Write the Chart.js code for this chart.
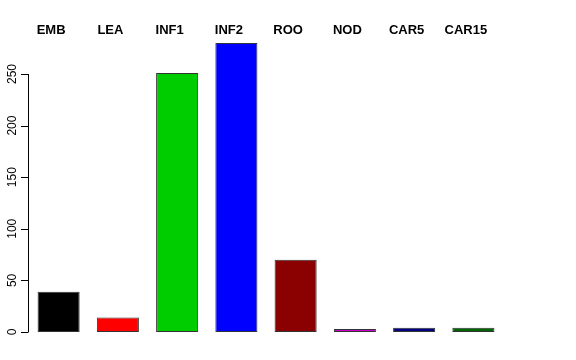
<!DOCTYPE html>
<html>
<head>
<meta charset="utf-8">
<script src="https://cdn.jsdelivr.net/npm/chart.js@4/dist/chart.umd.min.js"></script>
<style>
  html, body { margin: 0; padding: 0; background: #fff; }
  #wrap { width: 576px; height: 360px; }
</style>
</head>
<body>
<div id="wrap"><canvas id="barChart"></canvas></div>
<script>
var categories = ["EMB", "LEA", "INF1", "INF2", "ROO", "NOD", "CAR5", "CAR15"];
var counts = [39, 14, 251, 280, 70, 3, 4, 4];
var barColors = ["#000000", "#ff0000", "#00cd00", "#0000ff", "#8b0000", "#cd00cd", "#000080", "#006400"];
var yTicks = [0, 50, 100, 150, 200, 250];

// R 스타일 축과 상단 라벨
var rAxisPlugin = {
  id: "rAxis",
  afterDraw: function (chart) {
    var ctx = chart.ctx;
    var y = chart.scales.y;
    var x = chart.scales.x;
    var axisX = chart.chartArea.left - 1;

    ctx.save();
    ctx.strokeStyle = "#000";
    ctx.lineWidth = 1;
    ctx.beginPath();
    ctx.moveTo(axisX + 0.5, y.getPixelForValue(yTicks[0]));
    ctx.lineTo(axisX + 0.5, y.getPixelForValue(yTicks[yTicks.length - 1]));
    for (var i = 0; i < yTicks.length; i++) {
      var py = Math.round(y.getPixelForValue(yTicks[i])) + 0.5;
      ctx.moveTo(axisX + 0.5, py);
      ctx.lineTo(axisX - 7, py);
    }
    ctx.stroke();

    // 눈금 라벨 (세로)
    ctx.fillStyle = "#000";
    ctx.font = "12px 'Liberation Sans', Arial, sans-serif";
    ctx.textAlign = "center";
    ctx.textBaseline = "middle";
    for (var j = 0; j < yTicks.length; j++) {
      ctx.save();
      ctx.translate(13, y.getPixelForValue(yTicks[j]));
      ctx.rotate(-Math.PI / 2);
      ctx.fillText(String(yTicks[j]), 0, 0);
      ctx.restore();
    }

    // 상단 카테고리 라벨
    ctx.font = "bold 13px 'Liberation Sans', Arial, sans-serif";
    for (var k = 0; k < categories.length; k++) {
      ctx.fillText(categories[k], x.getPixelForValue(k) - 7.5, 30);
    }
    ctx.restore();
  }
};

new Chart(document.getElementById("barChart"), {
  type: "bar",
  data: {
    labels: categories,
    datasets: [{
      data: counts,
      backgroundColor: barColors,
      borderColor: "#333",
      borderWidth: 1,
      borderSkipped: false,
      barPercentage: 0.71,
      categoryPercentage: 1.0
    }]
  },
  options: {
    responsive: true,
    maintainAspectRatio: false,
    animation: false,
    layout: { padding: { left: 29, right: 73, top: 43, bottom: 28 } },
    plugins: {
      legend: { display: false },
      tooltip: { enabled: false }
    },
    scales: {
      x: { display: false },
      y: { display: false, min: 0, max: 280 }
    }
  },
  plugins: [rAxisPlugin]
});
</script>
</body>
</html>
